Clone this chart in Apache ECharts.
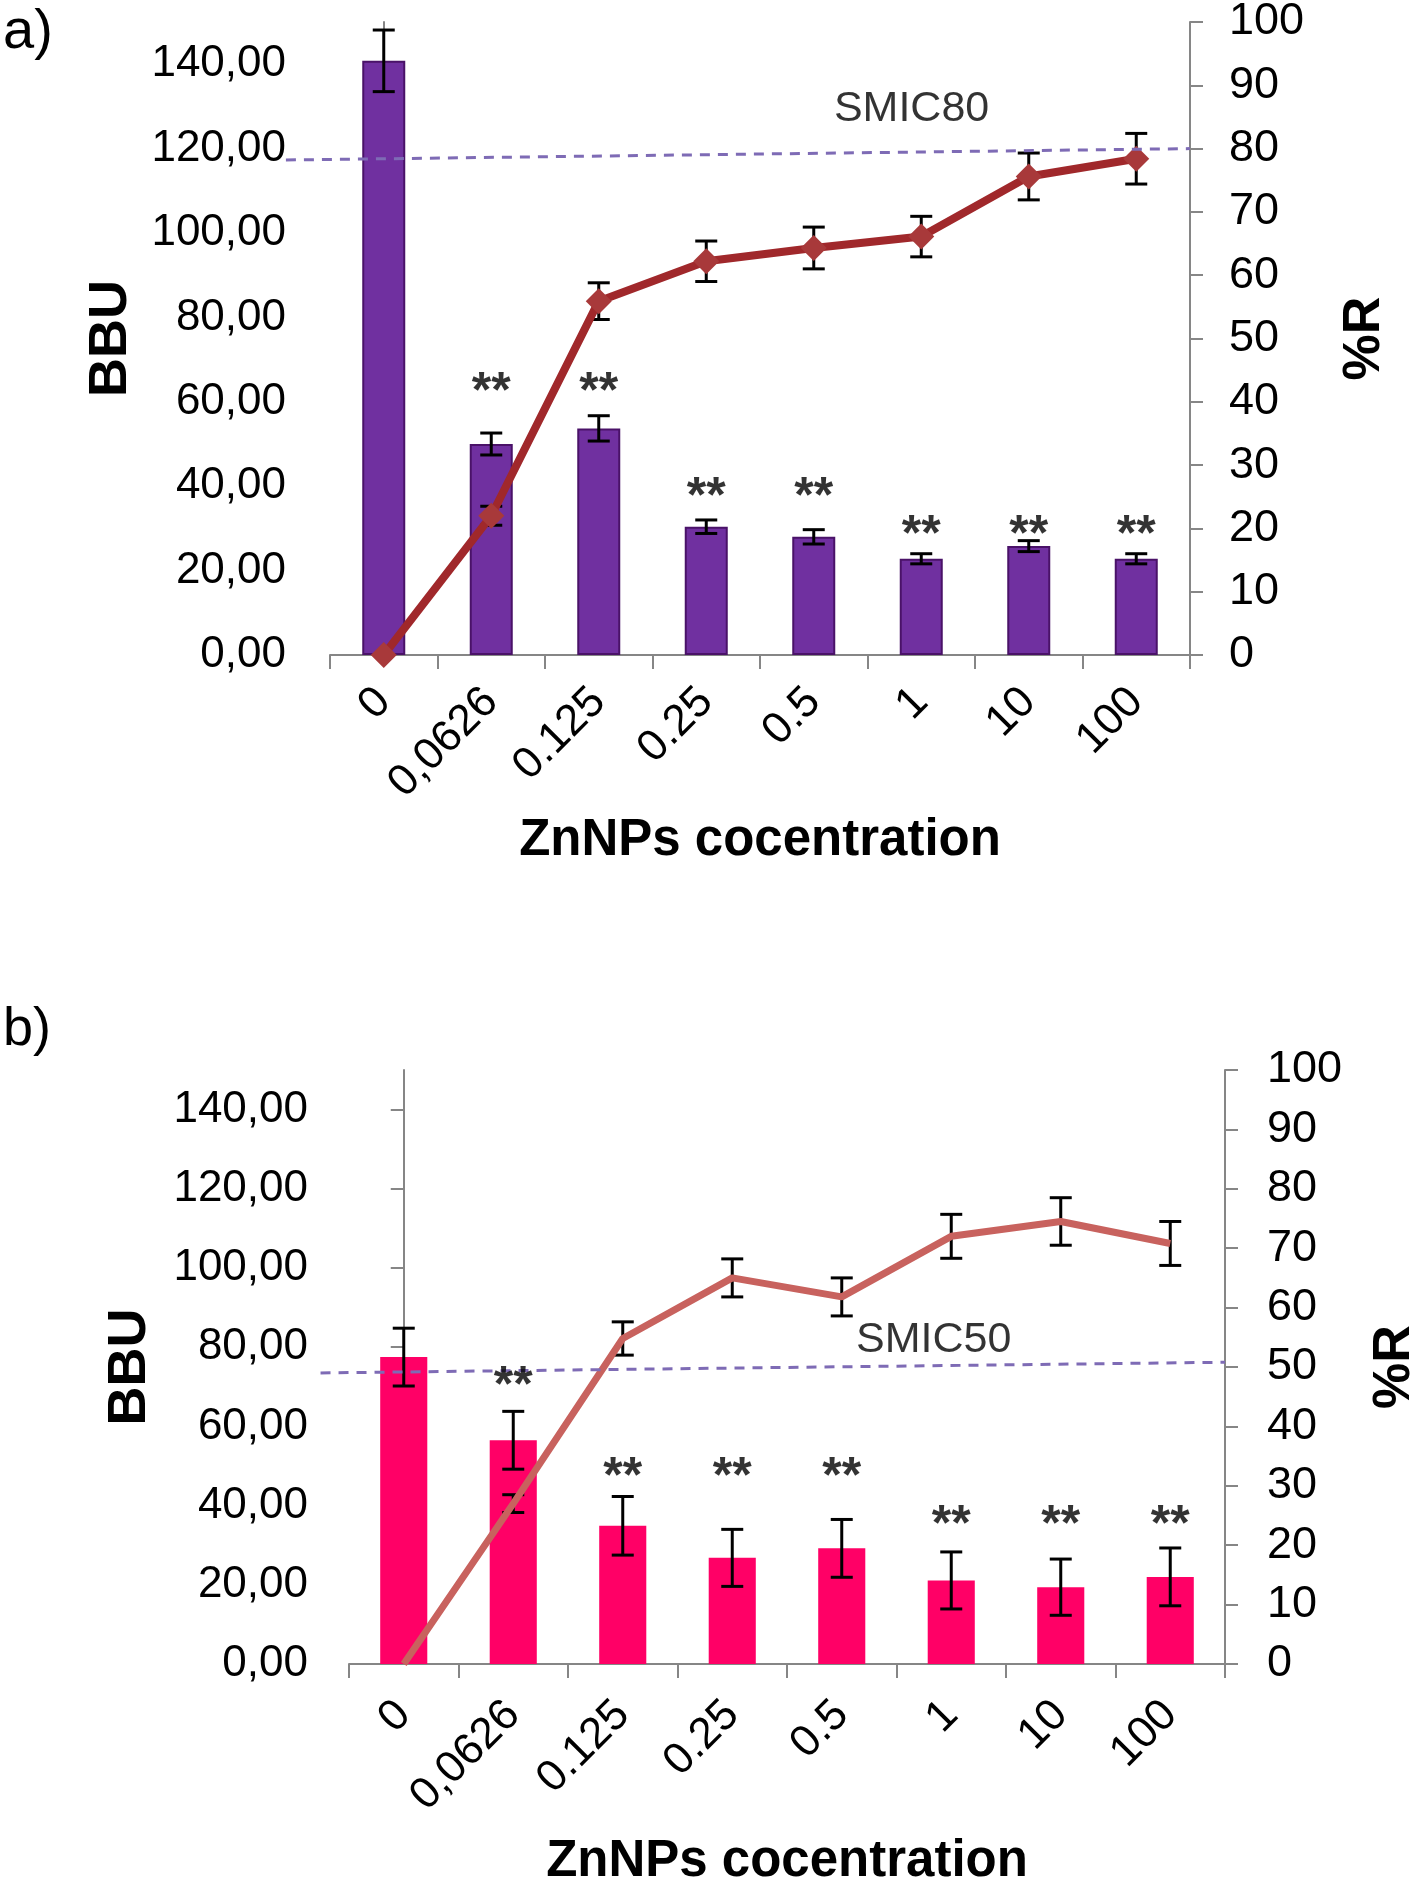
<!DOCTYPE html>
<html>
<head>
<meta charset="utf-8">
<title>ZnNPs BBU / %R</title>
<script src="https://cdn.jsdelivr.net/npm/echarts@6/dist/echarts.min.js"></script>
<style>
  html, body { margin: 0; padding: 0; background: #fff; }
  #chart { width: 1417px; height: 1877px; }
</style>
</head>
<body>
<div id="chart"></div>
<script>
// 数据
var categories = ['0', '0,0626', '0.125', '0.25', '0.5', '1', '10', '100'];
var bbuTicks = [0, 20, 40, 60, 80, 100, 120, 140];

// a) 面板
var bbuA = [140.8, 50.0, 53.7, 30.4, 28.0, 22.8, 25.8, 22.8];
var bbuErrA = [7.3, 2.6, 3.0, 1.6, 1.7, 1.2, 1.3, 1.2];
var pctA = [0, 22.0, 55.9, 62.2, 64.3, 66.1, 75.6, 78.4];
var pctErrA = [0, 1.5, 2.9, 3.2, 3.3, 3.2, 3.7, 4.0];
var starA = [null, 64.8, 64.8, 40, 40, 31, 31, 31];
var smicA = [-0.91, 78.2, 7.5, 80];   // x1, y1, x2, y2
var smicLabelA = [4.91, 86.3];

// b) 面板
var bbuB = [77.5, 56.5, 34.9, 26.8, 29.2, 21.1, 19.4, 22.0];
var bbuErrB = [7.3, 7.3, 7.4, 7.2, 7.3, 7.2, 7.1, 7.3];
var pctB = [0, 27.0, 54.8, 65.0, 61.8, 72.0, 74.5, 70.8];
var pctErrB = [0, 1.5, 2.8, 3.2, 3.2, 3.7, 4.0, 3.7];
var starB = [null, 73, 50, 50, 50, 37.8, 37.8, 37.8];
var smicB = [-0.76, 49.0, 7.5, 50.8];
var smicLabelB = [4.84, 54.5];

var FONT = 'Liberation Sans';
var AXIS_GRAY = '#868686';

function errData(vals, errs) {
	var out = [];
	for (var i = 0; i < vals.length; i++) {
		if (errs[i] > 0) out.push([i, vals[i] - errs[i], vals[i] + errs[i]]);
	}
	return out;
}

function starData(stars) {
	var out = [];
	for (var i = 0; i < stars.length; i++) {
		if (stars[i] != null) out.push([i, stars[i]]);
	}
	return out;
}

// 误差棒
function renderErr(params, api) {
	var x = api.value(0);
	var lo = api.coord([x, api.value(1)]);
	var hi = api.coord([x, api.value(2)]);
	var half = 11;
	var st = { stroke: '#000', lineWidth: 3 };
	return {
		type: 'group',
		children: [
			{ type: 'line', shape: { x1: lo[0], y1: lo[1], x2: hi[0], y2: hi[1] }, style: st },
			{ type: 'line', shape: { x1: lo[0] - half, y1: lo[1], x2: lo[0] + half, y2: lo[1] }, style: st },
			{ type: 'line', shape: { x1: hi[0] - half, y1: hi[1], x2: hi[0] + half, y2: hi[1] }, style: st }
		]
	};
}

// SMIC 虚线（可以画到坐标轴外面）
function renderSmic(params, api) {
	var p1 = api.coord([api.value(0), api.value(1)]);
	var p2 = api.coord([api.value(2), api.value(3)]);
	return {
		type: 'line',
		shape: { x1: p1[0], y1: p1[1], x2: p2[0], y2: p2[1] },
		style: { stroke: '#7E6BB5', lineWidth: 3, lineDash: [10, 8] }
	};
}

var grids = [], xAxes = [], yAxes = [], series = [];

function addPanel(k, p) {
	grids.push({ left: p.left, top: p.top, width: p.width, height: p.height,
		containLabel: false, outerBoundsMode: 'none' });
	var xc = k * 2, xv = k * 2 + 1, yl = k * 2, yr = k * 2 + 1;
	xAxes.push({
		type: 'category', gridIndex: k, data: categories, boundaryGap: true,
		name: 'ZnNPs cocentration', nameLocation: 'middle', nameGap: p.xNameGap,
		nameTextStyle: { fontFamily: FONT, fontSize: 51, fontWeight: 'bold', color: '#000' },
		axisLine: { lineStyle: { color: AXIS_GRAY, width: 2 } },
		axisTick: { show: true, length: 14, lineStyle: { color: AXIS_GRAY, width: 2 } },
		axisLabel: { interval: 0, rotate: 45, margin: p.xLabelMargin, fontFamily: FONT, fontSize: 44, color: '#000' }
	});
	xAxes.push({ type: 'value', gridIndex: k, min: -0.5, max: 7.5, show: false });
	yAxes.push({
		type: 'value', gridIndex: k, min: 0, max: 150, interval: 20, position: 'left',
		name: 'BBU', nameLocation: 'middle', nameGap: p.leftNameGap, nameRotate: 90,
		nameTextStyle: { fontFamily: FONT, fontSize: 54, fontWeight: 'bold', color: '#000' },
		splitLine: { show: false },
		axisLine: { show: true, lineStyle: { color: AXIS_GRAY, width: 2 } },
		axisTick: { show: true, length: 13, customValues: bbuTicks, lineStyle: { color: AXIS_GRAY, width: 2 } },
		axisLabel: {
			customValues: bbuTicks, margin: p.leftLabelMargin,
			fontFamily: FONT, fontSize: 44, color: '#000',
			formatter: function (v) { return v.toFixed(2).replace('.', ','); }
		}
	});
	yAxes.push({
		type: 'value', gridIndex: k, min: 0, max: 100, interval: 10, position: 'right',
		name: '%R', nameLocation: 'middle', nameGap: p.rightNameGap, nameRotate: 90,
		nameTextStyle: { fontFamily: FONT, fontSize: 52, fontWeight: 'bold', color: '#000' },
		splitLine: { show: false },
		axisLine: { show: true, lineStyle: { color: AXIS_GRAY, width: 2 } },
		axisTick: { show: true, length: 13, lineStyle: { color: AXIS_GRAY, width: 2 } },
		axisLabel: { margin: p.rightLabelMargin, fontFamily: FONT, fontSize: 45, color: '#000' }
	});

	series.push({
		type: 'bar', xAxisIndex: xc, yAxisIndex: yl, data: p.bbu, barWidth: p.barWidth, z: 2,
		itemStyle: p.barStyle
	});
	series.push({
		type: 'custom', xAxisIndex: xc, yAxisIndex: yl, data: errData(p.bbu, p.bbuErr),
		renderItem: renderErr, z: 3
	});
	series.push({
		type: 'custom', xAxisIndex: xc, yAxisIndex: yr, data: errData(p.pct, p.pctErr),
		renderItem: renderErr, z: 4
	});
	series.push({
		type: 'line', xAxisIndex: xc, yAxisIndex: yr, data: p.pct, z: 5,
		symbol: p.symbol, symbolSize: p.symbolSize,
		lineStyle: { color: p.lineColor, width: p.lineWidth },
		itemStyle: { color: p.markerColor }
	});
	series.push({
		type: 'custom', xAxisIndex: xv, yAxisIndex: yr, data: [p.smic], z: 6, clip: false,
		renderItem: renderSmic
	});
	series.push({
		type: 'scatter', xAxisIndex: xv, yAxisIndex: yr, data: [p.smicLabel], z: 7,
		symbolSize: 0,
		label: { show: true, position: 'inside', formatter: p.smicText,
			fontFamily: FONT, fontSize: 43, color: '#000' }
	});
	series.push({
		type: 'scatter', xAxisIndex: xc, yAxisIndex: yl, data: starData(p.star), z: 7,
		symbolSize: 0,
		label: { show: true, position: 'inside', formatter: '**', offset: [0, 12],
			fontFamily: FONT, fontSize: 50, fontWeight: 'bold', color: '#000' }
	});
}

addPanel(0, {
	left: 330, top: 22, width: 860, height: 633,
	xNameGap: 160, xLabelMargin: 40, leftNameGap: 192, rightNameGap: 149,
	leftLabelMargin: 44, rightLabelMargin: 39,
	bbu: bbuA, bbuErr: bbuErrA, pct: pctA, pctErr: pctErrA, star: starA,
	smic: smicA, smicLabel: smicLabelA, smicText: 'SMIC80',
	barWidth: '40%', barStyle: { color: '#7030A0', borderColor: '#4A1268', borderWidth: 2 },
	symbol: 'diamond', symbolSize: 26, lineColor: '#A0282B', lineWidth: 8, markerColor: '#A8393A'
});

addPanel(1, {
	left: 349, top: 1070, width: 876, height: 594,
	xNameGap: 172, xLabelMargin: 44, leftNameGap: 192, rightNameGap: 144,
	leftLabelMargin: 41, rightLabelMargin: 42,
	bbu: bbuB, bbuErr: bbuErrB, pct: pctB, pctErr: pctErrB, star: starB,
	smic: smicB, smicLabel: smicLabelB, smicText: 'SMIC50',
	barWidth: '43%', barStyle: { color: '#FF0066' },
	symbol: 'none', symbolSize: 0, lineColor: '#C8625E', lineWidth: 7, markerColor: '#C8625E'
});

var myChart = echarts.init(document.getElementById('chart'));
myChart.setOption({
	animation: false,
	backgroundColor: '#fff',
	title: [
		{ text: 'a)', left: -2, top: 0, textStyle: { fontFamily: FONT, fontSize: 56, fontWeight: 'normal', color: '#000' } },
		{ text: 'b)', left: -2, top: 998, textStyle: { fontFamily: FONT, fontSize: 54, fontWeight: 'normal', color: '#000' } }
	],
	grid: grids,
	xAxis: xAxes,
	yAxis: yAxes,
	series: series
});
</script>
</body>
</html>
